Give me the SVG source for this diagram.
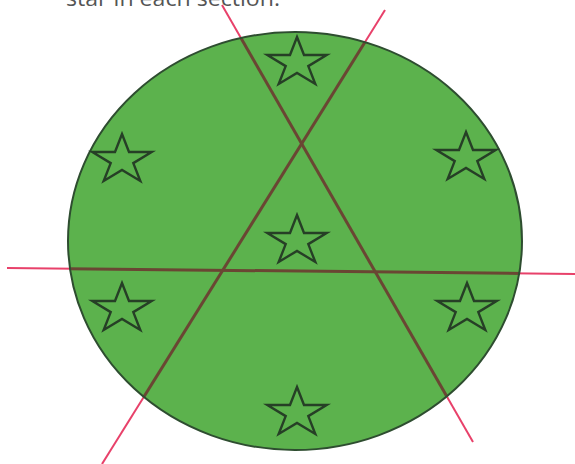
<svg xmlns="http://www.w3.org/2000/svg" width="575" height="464" viewBox="0 0 575 464">
  <defs>
    <style>
      .red { stroke: #e8416a; stroke-width: 2; fill: none; }
      .brown { stroke: #6a4633; stroke-width: 3; fill: none; }
      .star { fill: none; stroke: #263f26; stroke-width: 2.4; stroke-linejoin: miter; }
      .caption { font-family: "Open Sans", "Liberation Sans", sans-serif; font-size: 21px; fill: #555555; }
    </style>
    <clipPath id="inside">
      <ellipse cx="295" cy="241" rx="227" ry="209"/>
    </clipPath>
    <polygon id="starShape" points="0,-26 7,-8 29.7,-8 11.3,3.1 18.3,21 0,9.9 -18.3,21 -11.3,3.1 -29.7,-8 -7,-8"/>
  </defs>
  <rect width="575" height="464" fill="#ffffff"/>
  <text class="caption" x="66" y="6" textLength="214" lengthAdjust="spacingAndGlyphs">star in each section.</text>

  <g id="lines-outside">
    <line class="red" x1="7" y1="268" x2="575" y2="274"/>
    <line class="red" x1="222" y1="5" x2="473" y2="442"/>
    <line class="red" x1="385" y1="10" x2="102" y2="464"/>
  </g>

  <g id="circle">
    <ellipse cx="295" cy="241" rx="227" ry="209" fill="#5cb24d"/>
  </g>

  <g id="lines-inside" clip-path="url(#inside)">
    <line class="brown" x1="7" y1="268" x2="575" y2="274"/>
    <line class="brown" x1="222" y1="5" x2="473" y2="442"/>
    <line class="brown" x1="385" y1="10" x2="102" y2="464"/>
  </g>

  <ellipse cx="295" cy="241" rx="227" ry="209" fill="none" stroke="#2e4d30" stroke-width="2"/>

  <g id="stars">
    <use id="star-top" class="star" href="#starShape" x="297" y="63"/>
    <use id="star-left-upper" class="star" href="#starShape" x="122" y="160"/>
    <use id="star-right-upper" class="star" href="#starShape" x="466" y="158"/>
    <use id="star-center" class="star" href="#starShape" x="297" y="241"/>
    <use id="star-left-lower" class="star" href="#starShape" x="122" y="309"/>
    <use id="star-right-lower" class="star" href="#starShape" x="467" y="309"/>
    <use id="star-bottom" class="star" href="#starShape" x="297" y="413"/>
  </g>
</svg>
